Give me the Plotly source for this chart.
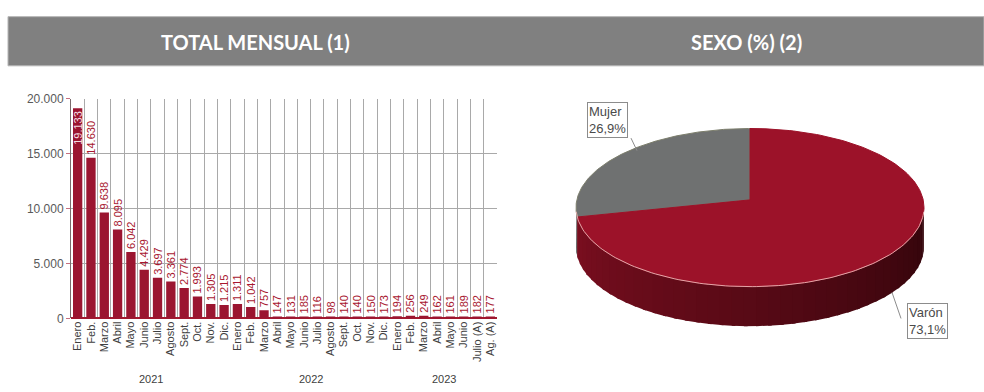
import numpy as np
import plotly.graph_objects as go

# ---- data ----
months = ["Enero", "Feb.", "Marzo", "Abril", "Mayo", "Junio", "Julio", "Agosto",
          "Sept.", "Oct.", "Nov.", "Dic.",
          "Enero", "Feb.", "Marzo", "Abril", "Mayo", "Junio", "Julio", "Agosto",
          "Sept.", "Oct.", "Nov.", "Dic.",
          "Enero", "Feb.", "Marzo", "Abril", "Mayo", "Junio", "Julio (A)", "Ag. (A)"]
years = ["2021"] * 12 + ["2022"] * 12 + ["2023"] * 8
totals = [19133, 14630, 9638, 8095, 6042, 4429, 3697, 3361, 2774, 1993, 1305, 1215,
          1311, 1042, 757, 147, 131, 185, 116, 98, 140, 140, 150, 173,
          194, 256, 249, 162, 161, 189, 182, 177]

sex_labels = ["Mujer", "Varón"]
sex_pct = [26.9, 73.1]

W, H = 984, 392
RED = "#9b1530"
LABEL_RED = "#a8172f"


def px_x(x):
    return x / W


def px_y(y):
    return 1 - y / H


fig = go.Figure()

# ---- monthly bars ----
cats = [y + "-" + str(i) for i, y in enumerate(years)]
positions = ["inside"] + ["outside"] * (len(totals) - 1)
fig.add_trace(go.Bar(
    x=cats, y=totals,
    marker=dict(color=RED, line=dict(width=0)),
    texttemplate="%{y:,.0f}",
    textposition=positions,
    insidetextanchor="end",
    textangle=-90,
    constraintext="none",
    cliponaxis=False,
    insidetextfont=dict(color="#f4dde2", size=11, family="Liberation Sans"),
    outsidetextfont=dict(color=LABEL_RED, size=11, family="Liberation Sans"),
    hoverinfo="skip", showlegend=False,
    xaxis="x", yaxis="y",
))

# year labels centred under each group
year_annots = []
for yr in dict.fromkeys(years):
    idx = [i for i, y in enumerate(years) if y == yr]
    year_annots.append(dict(
        x=sum(idx) / len(idx), xref="x", y=px_y(386), yref="paper",
        text=yr, showarrow=False, yanchor="middle",
        font=dict(size=11, color="#404040", family="Liberation Sans")))

# ---- 3D-looking pie drawn on a pixel-scaled axis pair ----
cx, cy, a, b, depth = 750, 208, 174, 82, 41
apex = (750, 200)
start = 90.0
bounds = [start]
for p in sex_pct:
    bounds.append(bounds[-1] + p / 100 * 360)


def arc(t0, t1, n=80, dy=0):
    t = np.radians(np.linspace(t0, t1, n))
    return cx + a * np.cos(t), cy - b * np.sin(t) + dy


# side band (front half, 180..360 deg), shaded in strips
mujer_end = bounds[1]
edges = sorted(set([180.0, mujer_end] + list(np.arange(184, 361, 4.0))))
edges = [e for e in edges if 180 <= e <= 360]
for t0, t1 in zip(edges[:-1], edges[1:]):
    mid = (t0 + t1) / 2
    f = (mid - 180) / 180
    if mid < mujer_end:
        col = "#4d4e4e"
    else:
        r = int(126 - 76 * f)
        g = int(15 - 10 * f)
        bl = int(33 - 22 * f)
        col = f"rgb({r},{g},{bl})"
    t1e = min(t1 + 1.2, 360)
    xt, yt = arc(t0, t1e, 8)
    xb, yb = arc(t1e, t0, 8, dy=depth)
    fig.add_trace(go.Scatter(
        x=list(xt) + list(xb), y=list(yt) + list(yb),
        fill="toself", fillcolor=col, mode="lines", line=dict(width=0, color=col),
        hoverinfo="skip", showlegend=False, xaxis="x2", yaxis="y2"))

slice_cols = ["#6f7171", "#9c1229"]
slice_lines = ["#7c7e6c", "#9c1229"]
for i in range(len(sex_pct)):
    xs, ys = arc(bounds[i], bounds[i + 1], 200)
    fig.add_trace(go.Scatter(
        x=[apex[0]] + list(xs) + [apex[0]], y=[apex[1]] + list(ys) + [apex[1]],
        fill="toself", fillcolor=slice_cols[i], mode="lines",
        line=dict(width=1, color=slice_lines[i]),
        hoverinfo="skip", showlegend=False, xaxis="x2", yaxis="y2"))

# light rim on front edge
xr, yr = arc(183, 357, 120)
fig.add_trace(go.Scatter(
    x=xr, y=yr, mode="lines", line=dict(width=1, color="rgba(235,180,180,0.9)"),
    hoverinfo="skip", showlegend=False, xaxis="x2", yaxis="y2"))


def pct(v):
    return f"{v:.1f}".replace(".", ",") + "%"


label_pos = [(607, 117), (927, 326)]
leaders = [((631, 136), (637, 149)), ((901, 323), (892, 296))]
pie_annots = []
for lab, v, (lx, ly) in zip(sex_labels, sex_pct, label_pos):
    pie_annots.append(dict(
        x=lx, y=ly, xref="x2", yref="y2", text=f"{lab}<br>{pct(v)}",
        showarrow=False, align="left", bgcolor="white",
        xanchor="center", yanchor="middle",
        bordercolor="#8c8c8c", borderwidth=1, borderpad=1,
        font=dict(size=13, color="#4a4a4a", family="Liberation Sans")))

shapes = []
for (p0, p1) in leaders:
    shapes.append(dict(type="line", xref="x2", yref="y2",
                       x0=p0[0], y0=p0[1], x1=p1[0], y1=p1[1],
                       line=dict(color="#8c8c8c", width=1)))

# ---- header bars ----
shapes.append(dict(type="rect", xref="paper", yref="paper",
                   x0=px_x(8), x1=1.0, y0=px_y(61), y1=px_y(10),
                   fillcolor="#808080", line=dict(color="#b5b5b5", width=1),
                   layer="below"))
header_font = dict(size=20, color="white", family="Lato")
head_annots = [
    dict(x=px_x(255), y=px_y(36), xref="paper", yref="paper",
         xanchor="center", yanchor="middle",
         text="<b>TOTAL MENSUAL (1)</b>", showarrow=False, font=header_font),
    dict(x=px_x(746), y=px_y(36), xref="paper", yref="paper",
         xanchor="center", yanchor="middle",
         text="<b>SEXO (%) (2)</b>", showarrow=False, font=header_font),
]

fig.update_layout(
    width=W, height=H, autosize=False,
    margin=dict(l=0, r=0, t=0, b=0, pad=0),
    paper_bgcolor="white", plot_bgcolor="white",
    separators=",.",
    bargap=0.3,
    xaxis=dict(
        domain=[px_x(71), px_x(497)], type="category",
        range=[-0.5, len(cats) - 0.5],
        tickmode="array", tickvals=cats, ticktext=months,
        tickangle=-90, tickson="boundaries", ticks="",
        showgrid=True, gridcolor="#a9a9a9", gridwidth=1,
        showline=False, fixedrange=True,
        tickfont=dict(size=11, color="#404040", family="Liberation Sans"),
    ),
    yaxis=dict(
        domain=[px_y(323), px_y(95)], range=[0, 20000],
        tickvals=[0, 5000, 10000, 15000, 20000], tickformat=",.0f",
        showgrid=True, gridcolor="#a9a9a9", gridwidth=1,
        showline=True, linecolor="#7a6a6c", linewidth=1,
        ticks="outside", ticklen=4, tickcolor="#c47080",
        zeroline=True, zerolinecolor="#a3192f", zerolinewidth=1.5,
        tickfont=dict(size=12, color="#595959", family="Liberation Sans"),
    ),
    xaxis2=dict(domain=[px_x(540), 1.0], range=[540, 984], visible=False,
                fixedrange=True),
    yaxis2=dict(domain=[0, px_y(70)], range=[392, 70], visible=False,
                fixedrange=True),
    shapes=shapes,
    annotations=year_annots + pie_annots + head_annots,
)

# page without margins or stray line boxes, so the figure fills the window
page_css = (
    "var s=document.documentElement.style;s.margin='0';s.padding='0';"
    "s.overflow='hidden';s.height='392px';"
    "var b=document.body.style;b.margin='0';b.padding='0';b.overflow='hidden';"
    "b.height='392px';b.lineHeight='0';b.fontSize='0';"
)
fig.write_html("out.html", config={"displayModeBar": False},
               post_script=page_css)
